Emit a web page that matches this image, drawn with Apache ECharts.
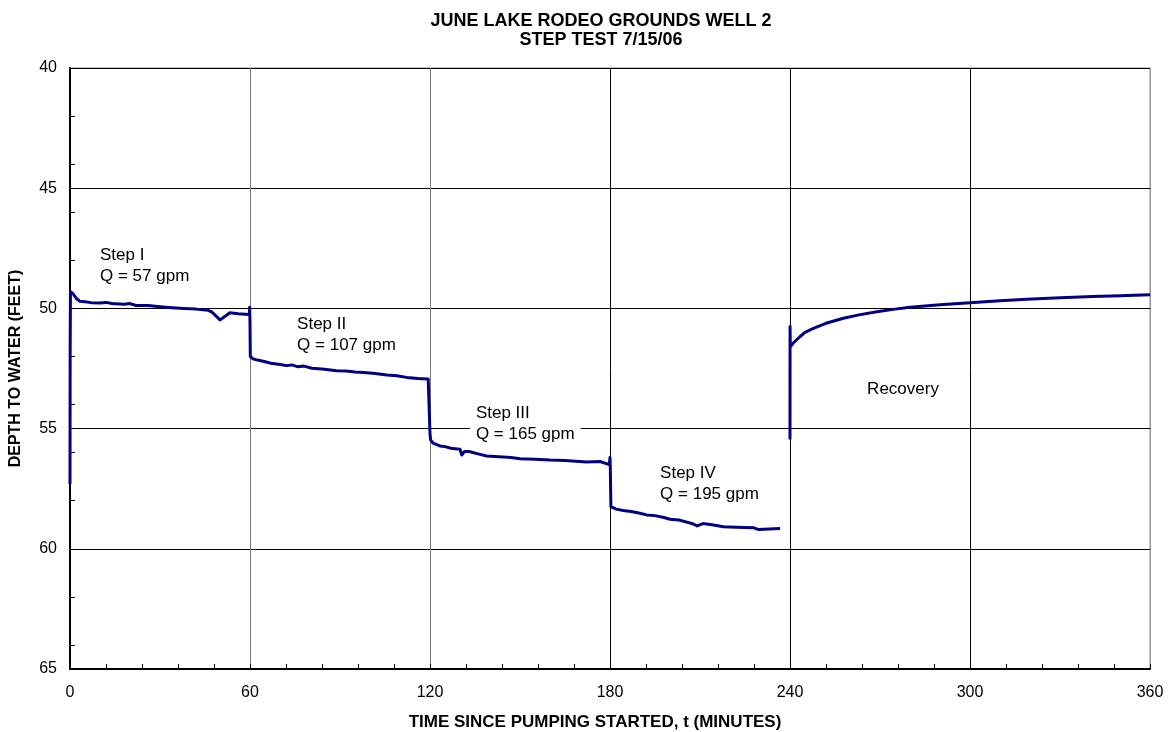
<!DOCTYPE html>
<html>
<head>
<meta charset="utf-8">
<title>June Lake Rodeo Grounds Well 2 - Step Test</title>
<script src="https://cdn.jsdelivr.net/npm/echarts@6/dist/echarts.min.js"></script>
<style>
  html, body { margin: 0; padding: 0; background: #fff; overflow: hidden; }
  #chart { width: 1169px; height: 732px; }
</style>
</head>
<body>
<div id="chart"></div>
<script>
// Depth to water readings, [minutes since pumping started, depth in feet]
const step1 = [
  [0, 57.3], [0.05, 52.0], [0.15, 49.3], [0.6, 49.25], [1.1, 49.4], [2.2, 49.6],
  [3.3, 49.7], [5, 49.72], [7, 49.76], [10, 49.78], [12, 49.75], [14, 49.8],
  [18, 49.83], [20, 49.8], [22, 49.88], [26, 49.88], [30, 49.93], [34, 49.97],
  [38, 50.0], [42, 50.03], [46, 50.08], [47.2, 50.14], [50, 50.48], [53.3, 50.18],
  [56, 50.22], [59.8, 50.25], [59.9, 49.95], [60.0, 50.6]
];
const step2 = [
  [60.1, 52.0], [61, 52.1], [62.5, 52.15], [64.4, 52.2], [67, 52.28], [70, 52.33],
  [72.2, 52.38], [74, 52.35], [76, 52.43], [78, 52.4], [80.6, 52.49], [84, 52.52],
  [88.9, 52.59], [92, 52.6], [95, 52.65], [97.8, 52.67], [101, 52.7], [105.6, 52.77],
  [109, 52.8], [112.2, 52.87], [116, 52.92], [119.4, 52.94], [119.8, 52.94], [120, 55.2]
];
const step3 = [
  [120.2, 55.47], [121, 55.6], [123.3, 55.72], [125, 55.75], [127, 55.82], [130, 55.86],
  [130.6, 56.1], [131.5, 55.95], [133, 55.95], [136, 56.05], [138.9, 56.14], [143, 56.17],
  [147, 56.2], [150, 56.25], [155, 56.27], [160, 56.31], [165, 56.33], [172.2, 56.39],
  [176.7, 56.37], [179.8, 56.5], [180, 56.2], [180.1, 56.6]
];
const step4 = [
  [180.3, 58.25], [180.6, 58.32], [182, 58.35], [184.4, 58.41], [187, 58.45], [190, 58.52],
  [192.2, 58.59], [195, 58.62], [198, 58.7], [200, 58.77], [203, 58.8], [205, 58.87],
  [207.8, 58.97], [209, 59.05], [211, 58.95], [214, 59.0], [217.8, 59.08], [222, 59.1],
  [227.8, 59.12], [229.5, 59.2], [233, 59.18], [236.7, 59.16]
];
const recovery = [
  [240, 55.45], [240.02, 50.75], [240.1, 51.6], [241, 51.45], [243.3, 51.18], [245, 51.0],
  [247.8, 50.83], [252, 50.62], [257.8, 50.41], [263, 50.27], [268.9, 50.14], [275, 50.03],
  [280, 49.95], [290, 49.85], [300, 49.76], [310, 49.68], [318.9, 49.62], [330, 49.56],
  [341, 49.51], [350, 49.47], [360, 49.43]
];

// Axis ranges and tick spacing
const timeTicks = { min: 0, max: 360, interval: 60 };
const depthTicks = { min: 40, max: 65, interval: 5, minorInterval: 2 };

// Step annotations anchored in data units (top-left of each text block)
const notes = [
  { t: 10, d: 47.45, text: 'Step I\nQ = 57 gpm', boxed: false },
  { t: 75.7, d: 50.3, text: 'Step II\nQ = 107 gpm', boxed: false },
  { t: 135.3, d: 53.93, text: 'Step III\nQ = 165 gpm', boxed: true },
  { t: 196.7, d: 56.5, text: 'Step IV\nQ = 195 gpm', boxed: false },
  { t: 265.7, d: 53.0, text: 'Recovery', boxed: false }
];

const FONT = 'Arial, "Liberation Sans", Helvetica, sans-serif';
const LINE_COLOR = '#000080';

const chart = echarts.init(document.getElementById('chart'), null, { renderer: 'canvas' });

const drawdown = step1.concat(step2, step3, step4);

const option = {
  backgroundColor: '#ffffff',
  animation: false,
  title: {
    text: 'JUNE LAKE RODEO GROUNDS WELL 2\nSTEP TEST 7/15/06',
    left: 596,
    top: 7,
    textAlign: 'center',
    textStyle: {
      fontFamily: FONT, fontSize: 18, fontWeight: 'bold', color: '#000', lineHeight: 19
    }
  },
  grid: {
    left: 70, right: 19, top: 68, bottom: 63,
    containLabel: false,
    outerBoundsMode: 'none',
    show: true, borderColor: '#8c8c8c', borderWidth: 1, backgroundColor: '#fff'
  },
  xAxis: {
    type: 'value',
    min: timeTicks.min, max: timeTicks.max, interval: timeTicks.interval,
    name: 'TIME SINCE PUMPING STARTED, t (MINUTES)',
    nameLocation: 'middle',
    nameGap: 45,
    nameTextStyle: { fontFamily: FONT, fontSize: 17, fontWeight: 'bold', color: '#000', padding: [0, 30, 0, 0] },
    axisLine: { show: true, onZero: false, lineStyle: { color: '#000', width: 2 } },
    axisTick: { show: true, inside: true, length: 5, lineStyle: { color: '#000' } },
    minorTick: { show: true, splitNumber: 5, length: 5, lineStyle: { color: '#000', width: 1 } },
    axisLabel: { fontFamily: FONT, fontSize: 16, color: '#000', margin: 16 },
    splitLine: {
      show: true,
      lineStyle: { color: ['#000', '#7a7a7a', '#7a7a7a', '#000', '#000', '#000', '#9a9a9a'], width: 1 }
    }
  },
  yAxis: [
    {
      type: 'value',
      inverse: true,
      min: depthTicks.min, max: depthTicks.max, interval: depthTicks.interval,
      name: 'DEPTH TO WATER (FEET)',
      nameLocation: 'middle',
      nameGap: 46,
      nameTextStyle: { fontFamily: FONT, fontSize: 16, fontWeight: 'bold', color: '#000' },
      axisLine: { show: true, lineStyle: { color: '#000', width: 2 } },
      axisTick: { show: true, inside: true, length: 6, lineStyle: { color: '#000' } },
      axisLabel: { fontFamily: FONT, fontSize: 16, color: '#000', margin: 13 },
      splitLine: { show: true, lineStyle: { color: '#000', width: 1 } }
    },
    {
      // minor depth ticks every 2 ft
      type: 'value',
      inverse: true,
      position: 'left',
      min: depthTicks.min, max: depthTicks.max, interval: depthTicks.minorInterval,
      axisLine: { show: false },
      axisTick: { show: true, inside: true, length: 5, lineStyle: { color: '#000' } },
      axisLabel: { show: false },
      splitLine: { show: false }
    }
  ],
  series: [
    {
      name: 'Pumping steps',
      type: 'line',
      data: drawdown,
      showSymbol: false,
      lineStyle: { color: LINE_COLOR, width: 3, join: 'round' },
      z: 5
    },
    {
      name: 'Recovery',
      type: 'line',
      data: recovery,
      showSymbol: false,
      lineStyle: { color: LINE_COLOR, width: 3, join: 'round' },
      z: 5
    }
  ]
};

chart.setOption(option);

// Place step annotations through the chart's own coordinate conversion
function placeNotes() {
  const elements = notes.map(function (n) {
    const p = chart.convertToPixel({ xAxisIndex: 0, yAxisIndex: 0 }, [n.t, n.d]);
    return {
      type: 'text',
      x: p[0] - (n.boxed ? 6 : 0),
      y: p[1] - 2,
      z: 10,
      style: {
        text: n.text,
        fontFamily: FONT,
        fontSize: 17,
        lineHeight: 21,
        fill: '#000',
        backgroundColor: n.boxed ? '#fff' : 'transparent',
        padding: n.boxed ? [2, 6, 2, 6] : 0
      }
    };
  });
  chart.setOption({ graphic: elements });
}
placeNotes();
</script>
</body>
</html>
